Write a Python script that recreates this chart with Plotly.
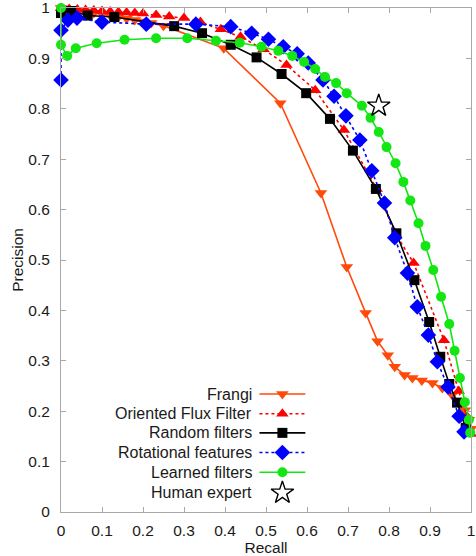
import plotly.graph_objects as go

# Precision-recall curves for vessel/centerline detectors
frangi_recall = [0.0, 0.02, 0.04, 0.06, 0.08, 0.10, 0.12, 0.14, 0.16, 0.18, 0.20, 0.22, 0.25,
                 0.397, 0.535, 0.634, 0.697, 0.743, 0.772, 0.797, 0.814, 0.838, 0.857, 0.88,
                 0.906, 0.93, 0.954, 0.978, 0.985, 0.995, 1.0]
frangi_precision = [1.0, 0.998, 0.996, 0.993, 0.99, 0.988, 0.985, 0.982, 0.979, 0.976, 0.973, 0.970, 0.965,
                    0.92, 0.811, 0.633, 0.486, 0.395, 0.339, 0.311, 0.288, 0.272, 0.266, 0.261,
                    0.256, 0.246, 0.232, 0.216, 0.202, 0.183, 0.165]

off_recall = [0.0, 0.02, 0.04, 0.06, 0.08, 0.10, 0.12, 0.14, 0.16, 0.18, 0.20, 0.232, 0.264,
              0.30, 0.34, 0.39, 0.438, 0.494, 0.550, 0.620, 0.690, 0.770, 0.816, 0.860, 0.934,
              0.97, 0.99, 1.0]
off_precision = [1.0, 0.998, 0.997, 0.996, 0.995, 0.994, 0.993, 0.992, 0.991, 0.990, 0.989, 0.986, 0.983,
                 0.980, 0.972, 0.958, 0.943, 0.918, 0.887, 0.837, 0.758, 0.641, 0.552, 0.494, 0.341,
                 0.24, 0.19, 0.155]

random_recall = [0.0, 0.025, 0.065, 0.13, 0.276, 0.344, 0.414, 0.477, 0.538, 0.598, 0.656, 0.712,
                 0.768, 0.818, 0.862, 0.898, 0.925, 0.947, 0.966, 0.987]
random_precision = [0.99, 0.994, 0.985, 0.982, 0.964, 0.950, 0.927, 0.902, 0.869, 0.831, 0.780, 0.717,
                    0.641, 0.553, 0.460, 0.377, 0.308, 0.254, 0.217, 0.167]

rot_recall = [0.0, 0.0, 0.017, 0.039, 0.10, 0.208, 0.329, 0.414, 0.465, 0.506, 0.542, 0.576, 0.603,
              0.639, 0.666, 0.695, 0.729, 0.758, 0.789, 0.814, 0.845, 0.869, 0.896, 0.918, 0.944,
              0.971, 0.983]
rot_precision = [0.857, 0.956, 0.976, 0.980, 0.972, 0.968, 0.968, 0.963, 0.95, 0.938, 0.923, 0.909, 0.891,
                 0.857, 0.825, 0.786, 0.738, 0.677, 0.613, 0.544, 0.474, 0.407, 0.351, 0.298, 0.248,
                 0.19, 0.159]

learned_recall = [0.0, 0.0, 0.015, 0.036, 0.087, 0.155, 0.232, 0.308, 0.378, 0.436, 0.489, 0.530,
                  0.564, 0.593, 0.620, 0.644, 0.671, 0.697, 0.734, 0.755, 0.775, 0.794, 0.816, 0.835,
                  0.852, 0.872, 0.889, 0.908, 0.927, 0.947, 0.960, 0.973, 0.985, 0.995, 0.998]
learned_precision = [1.0, 0.927, 0.905, 0.92, 0.93, 0.937, 0.94, 0.94, 0.935, 0.931, 0.923, 0.915,
                     0.905, 0.893, 0.879, 0.863, 0.851, 0.831, 0.806, 0.782, 0.754, 0.724, 0.692, 0.655,
                     0.618, 0.573, 0.528, 0.480, 0.427, 0.373, 0.32, 0.266, 0.218, 0.183, 0.157]

human_recall = [0.775]
human_precision = [0.806]

series_names = ["Frangi", "Oriented Flux Filter", "Random filters", "Rotational features",
                "Learned filters", "Human expert"]

tick_values = [0, 0.1, 0.2, 0.3, 0.4, 0.5, 0.6, 0.7, 0.8, 0.9, 1]
tick_labels = ["0", "0.1", "0.2", "0.3", "0.4", "0.5", "0.6", "0.7", "0.8", "0.9", "1"]

FONT = "Liberation Sans, Arial, sans-serif"
AXIS_GRAY = "#A8A8A8"
TEXT = "#1a1a1a"

styles = [
    dict(color="#FF4A0A", dash="solid", symbol="triangle-down", size=11),
    dict(color="#FF0000", dash="dot", symbol="triangle-up", size=11),
    dict(color="#000000", dash="solid", symbol="square", size=10),
    dict(color="#0000FF", dash="dot", symbol="diamond", size=12),
    dict(color="#14E614", dash="solid", symbol="circle", size=10),
]

curves = [
    (frangi_recall, frangi_precision),
    (off_recall, off_precision),
    (random_recall, random_precision),
    (rot_recall, rot_precision),
    (learned_recall, learned_precision),
]

fig = go.Figure()

for (xs, ys), st, name in zip(curves, styles, series_names):
    fig.add_trace(go.Scatter(
        x=xs, y=ys, mode="lines+markers", name=name, cliponaxis=False,
        line=dict(color=st["color"], width=1.6, dash=st["dash"]),
        marker=dict(symbol=st["symbol"], size=st["size"], color=st["color"], line=dict(width=0)),
        showlegend=False,
    ))

star_marker = dict(symbol="star-open", size=17, color="black", line=dict(width=1.4, color="black"))

fig.add_trace(go.Scatter(
    x=human_recall, y=human_precision, mode="markers", name=series_names[5], cliponaxis=False,
    marker=star_marker, showlegend=False,
))

# Hand-built legend: right-aligned labels with the key drawn to the right of the text
legend_text_x = 0.47
key_x0, key_x1 = 0.484, 0.596
key_mid = (key_x0 + key_x1) / 2
row_y = [0.234, 0.195, 0.157, 0.118, 0.079, 0.038]

for i, name in enumerate(series_names):
    y = row_y[i]
    fig.add_annotation(x=legend_text_x, y=y, xref="x2", yref="y2", text=name, showarrow=False,
                       xanchor="right", yanchor="middle",
                       font=dict(family=FONT, size=16, color=TEXT))
    if i < len(styles):
        st = styles[i]
        fig.add_trace(go.Scatter(
            x=[key_x0, key_x1], y=[y, y], mode="lines", xaxis="x2", yaxis="y2", cliponaxis=False,
            line=dict(color=st["color"], width=1.6, dash=st["dash"]), showlegend=False, hoverinfo="skip"))
        fig.add_trace(go.Scatter(
            x=[key_mid], y=[y], mode="markers", xaxis="x2", yaxis="y2", cliponaxis=False,
            marker=dict(symbol=st["symbol"], size=st["size"], color=st["color"], line=dict(width=0)),
            showlegend=False, hoverinfo="skip"))
    else:
        fig.add_trace(go.Scatter(
            x=[key_mid], y=[y], mode="markers", xaxis="x2", yaxis="y2", cliponaxis=False,
            marker=star_marker, showlegend=False, hoverinfo="skip"))

axis_common = dict(
    range=[0, 1], tickmode="array", tickvals=tick_values, ticktext=tick_labels,
    showgrid=False, zeroline=False, automargin=False,
    showline=True, linecolor=AXIS_GRAY, linewidth=1, mirror="ticks",
    ticks="inside", ticklen=5, tickcolor=AXIS_GRAY, tickwidth=1,
    ticklabeloverflow="allow",
    tickfont=dict(family=FONT, size=15.5, color=TEXT),
)

fig.update_layout(
    width=476, height=556,
    margin=dict(l=61, r=5, t=8, b=44),
    paper_bgcolor="white", plot_bgcolor="white",
    font=dict(family=FONT, size=15, color=TEXT),
    xaxis=dict(**axis_common, ticklabelstandoff=4,
               title=dict(text="Recall", standoff=0,
                          font=dict(family=FONT, size=15.5, color=TEXT))),
    yaxis=dict(**axis_common, ticklabelstandoff=7,
               title=dict(text="Precision", standoff=0,
                          font=dict(family=FONT, size=15.5, color=TEXT))),
    xaxis2=dict(range=[0, 1], overlaying="x", visible=False),
    yaxis2=dict(range=[0, 1], overlaying="y", visible=False),
    showlegend=False,
)

fig.write_html("out.html")
